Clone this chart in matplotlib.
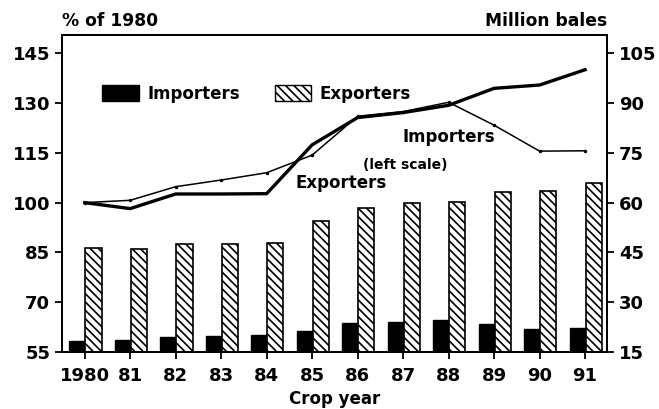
import numpy as np
import matplotlib
matplotlib.use("Agg")
import matplotlib.pyplot as plt
from matplotlib.patches import Patch

# crop years
years = ['1980', '81', '82', '83', '84', '85', '86', '87', '88', '89', '90', '91']

# million bales (right scale)
imp_bales = [18.5, 18.8, 19.5, 19.8, 20.3, 21.5, 23.8, 24.1, 24.6, 23.4, 22.0, 22.2]
exp_bales = [46.4, 45.9, 47.7, 47.7, 47.9, 54.6, 58.3, 59.8, 60.3, 63.1, 63.5, 65.8]

# % of 1980 (left scale)
imp_pct = [100, 100.7, 104.8, 106.8, 109.0, 114.3, 126.0, 127.4, 130.2, 123.3, 115.5, 115.6]
exp_pct = [100, 98.2, 102.6, 102.6, 102.7, 117.4, 125.6, 127.1, 129.3, 134.4, 135.4, 140.0]

plt.rcParams['font.family'] = 'DejaVu Sans'
plt.rcParams['font.weight'] = 'bold'
plt.rcParams['hatch.linewidth'] = 1.2

fig = plt.figure(figsize=(6.59, 4.09), dpi=100)
ax = fig.add_axes([0.094, 0.139, 0.827, 0.775])
ax2 = ax.twinx()

x = np.arange(len(years))
w = 0.34

# bars on right axis
ax2.bar(x - w/2, imp_bales, w, color='black', edgecolor='black', linewidth=1)
ax2.bar(x + w/2 + 0.02, exp_bales, w + 0.02, color='white', edgecolor='black',
        hatch='\\\\\\\\', linewidth=1.2)
ax2.set_ylim(15, 110.4)
ax2.set_yticks([15, 30, 45, 60, 75, 90, 105])

# lines on left axis, drawn above the bars
ax.set_zorder(ax2.get_zorder() + 1)
ax.patch.set_visible(False)
ax.plot(x, imp_pct, color='black', linewidth=1.1, marker='.', markersize=3)
ax.plot(x, exp_pct, color='black', linewidth=2.4)
ax.set_ylim(55, 150.4)
ax.set_yticks([55, 70, 85, 100, 115, 130, 145])
ax.set_xlim(-0.5, 11.48)
ax.set_xticks(x)
ax.set_xticklabels(years)

for a in (ax, ax2):
    a.tick_params(labelsize=13, width=1.3, length=5, direction='out')
    for s in a.spines.values():
        s.set_linewidth(1.4)
ax.tick_params(axis='x', pad=6)

ax.set_xlabel('Crop year', fontsize=12, fontweight='bold', labelpad=3)
ax.text(0.0, 1.045, '% of 1980', transform=ax.transAxes, fontsize=12.3,
        fontweight='bold', ha='left', va='center')
ax.text(1.0, 1.045, 'Million bales', transform=ax.transAxes, fontsize=12.3,
        fontweight='bold', ha='right', va='center')

# annotations
ax.text(8.0, 119.7, 'Importers', fontsize=12, fontweight='bold', ha='center', va='center')
ax.text(7.05, 111.4, '(left scale)', fontsize=10, fontweight='bold', ha='center', va='center')
ax.text(5.63, 106.0, 'Exporters', fontsize=12, fontweight='bold', ha='center', va='center')

handles = [Patch(facecolor='black', edgecolor='black'),
           Patch(facecolor='white', edgecolor='black', hatch='\\\\\\\\')]
ax.legend(handles, ['Importers', 'Exporters'], loc='center left',
          bbox_to_anchor=(0.046, 0.815), ncol=2, frameon=False, fontsize=12,
          handlelength=2.2, handleheight=1.15, handletextpad=0.5, columnspacing=2.1)

fig.savefig('out.png', dpi=100)
